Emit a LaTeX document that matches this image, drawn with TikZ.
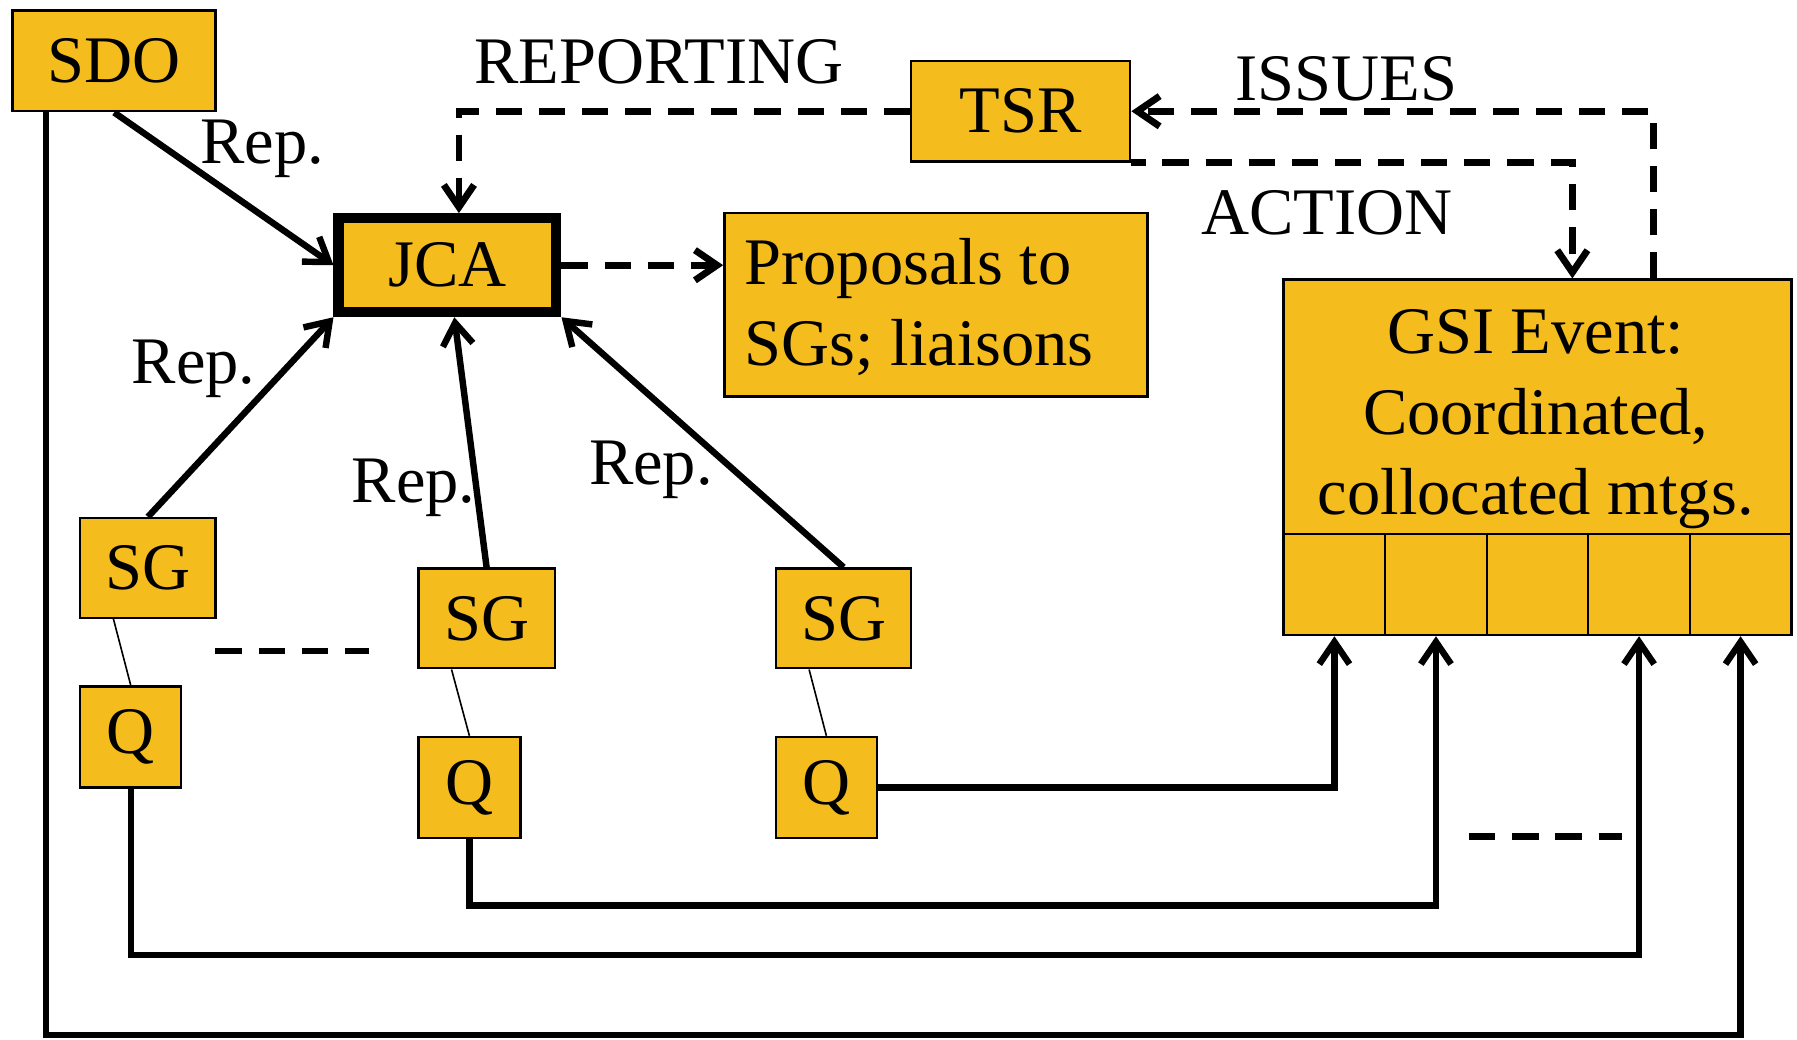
\documentclass[tikz,border=0pt]{standalone}
\usepackage{fontspec}
\setmainfont{Liberation Serif}
\usetikzlibrary{arrows.meta,calc}
\definecolor{boxfill}{RGB}{244,188,28}
\frenchspacing
\begin{document}
\begin{tikzpicture}[x=0.01cm,y=-0.01cm,
  txt/.style={font=\fontsize{16.5}{20}\selectfont},
  box/.style={draw=black,line width=0.6pt,fill=boxfill,inner sep=0pt,anchor=north west,txt},
  lbl/.style={txt,inner sep=0pt},
  conn/.style={line width=1.6pt},
  dconn/.style={line width=1.7pt,dash pattern=on 6.5pt off 4.2pt},
  arr/.style={-{Straight Barb[length=5.5pt,width=7.5pt]}},
  thinline/.style={line width=0.4pt}]

\useasboundingbox (0,0) rectangle (1568,907);

% boxes
\node[box,minimum width=1.77cm,minimum height=0.88cm] (sdo) at (10,8) {SDO};
\node[box,line width=2.5pt,minimum width=1.90cm,minimum height=0.82cm] (jca) at (291,186) {JCA};
\node[box,minimum width=1.91cm,minimum height=0.88cm] (tsr) at (794,52) {TSR};
\node[box,minimum width=3.69cm,minimum height=1.60cm] (prop) at (631,185) {};
\node[lbl,align=left,anchor=west] (proptext) at (649,268) {Proposals to\\SGs; liaisons};
\node[box,minimum width=4.43cm,minimum height=2.22cm] (gsi) at (1119,243) {};
\node[lbl,align=center] (gsitext) at (1340,366) {GSI Event:\\Coordinated,\\collocated mtgs.};
\foreach \i in {1,...,5}
  \node[box,minimum width=0.886cm,minimum height=0.88cm] (cell\i) at ({1119+(\i-1)*88.6},465) {};

\node[box,minimum width=1.18cm,minimum height=0.87cm] (sg1) at (69,451) {SG};
\node[box,minimum width=0.88cm,minimum height=0.88cm] (q1) at (69,598) {Q};
\node[box,minimum width=1.19cm,minimum height=0.87cm] (sg2) at (364,495) {SG};
\node[box,minimum width=0.89cm,minimum height=0.88cm] (q2) at (364,642) {Q};
\node[box,minimum width=1.18cm,minimum height=0.87cm] (sg3) at (676,495) {SG};
\node[box,minimum width=0.88cm,minimum height=0.88cm] (q3) at (676,642) {Q};

% reporting arrows to JCA
\draw[conn,arr] (sdo.south) -- (jca.west);
\draw[conn,arr] (sg1.north) -- (jca.south west);
\draw[conn,arr] (sg2.north) -- ($(jca.south)+(6,0)$);
\draw[conn,arr] (sg3.north) -- (jca.south east);

% SG - Q thin links
\draw[thinline] ($(sg1.south west)+(30,0)$) -- (q1.north);
\draw[thinline] ($(sg2.south west)+(30,0)$) -- (q2.north);
\draw[thinline] ($(sg3.south west)+(30,0)$) -- (q3.north);

% links to GSI cells
\draw[conn,arr] (q3.east) -| (cell1.south);
\draw[conn,arr] (q2.south) -- ++(0,58) -| (cell2.south);
\draw[conn,arr] (q1.south) -- ++(0,145) -| (cell4.south);
\draw[conn,arr] ($(sdo.south west)+(30,0)$) -- ++(0,805) -| (cell5.south);

% dashed connectors
\draw[dconn,arr] (tsr.west) -| ($(jca.north)+(10,0)$);
\draw[dconn,arr] ($(gsi.north west)+(324,0)$) |- (tsr.east);
\draw[dconn,arr,dash phase=3pt] (tsr.south east) -| ($(gsi.north west)+(253,0)$);
\draw[dconn,arr] (jca.east) -- (jca.east -| prop.west);

% free dashes
\coordinate (da1) at (188,568);
\coordinate (da2) at (322,568);
\draw[dconn] (da1) -- (da2);
\coordinate (db1) at (1282,730);
\coordinate (db2) at (1415,730);
\draw[dconn] (db1) -- (db2);

% labels
\node[lbl] (rep1) at (229,130) {Rep.};
\node[lbl] (rep2) at (169,322) {Rep.};
\node[lbl] (rep3) at (361,426) {Rep.};
\node[lbl] (rep4) at (568,410) {Rep.};
\node[lbl] (reporting) at (575,54) {REPORTING};
\node[lbl] (issues) at (1175,69) {ISSUES};
\node[lbl] (action) at (1158,186) {ACTION};
\end{tikzpicture}
\end{document}
